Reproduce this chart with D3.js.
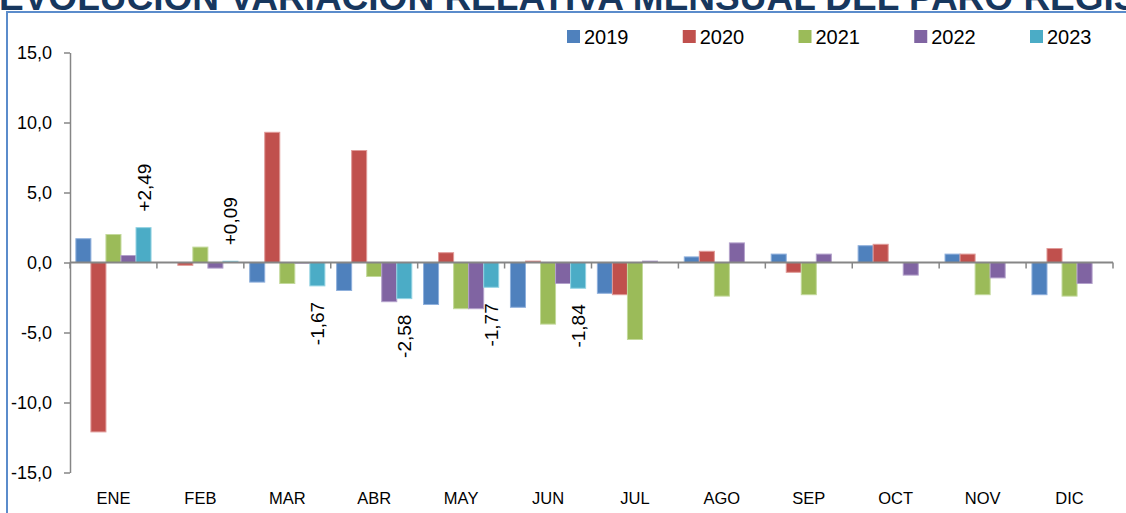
<!DOCTYPE HTML>
<html lang="es">
	<head>
		<title>Evolución variación relativa mensual</title>
		<style type="text/css">
			body {
				margin: 0;
				background-color: #ffffff;
				font-family: "Liberation Sans", Arial, sans-serif;
			}
			svg { display: block; }
		</style>
		<script src="https://d3js.org/d3.v7.min.js"></script>
	</head>
	<body>
		<div id="display"></div>
		<script>

			// data
			var months = ["ENE", "FEB", "MAR", "ABR", "MAY", "JUN", "JUL", "AGO", "SEP", "OCT", "NOV", "DIC"];
			var years = ["2019", "2020", "2021", "2022", "2023"];
			var v2019 = [1.7, 0.0, -1.4, -2.0, -3.0, -3.2, -2.2, 0.4, 0.6, 1.2, 0.6, -2.3];
			var v2020 = [-12.1, -0.2, 9.3, 8.0, 0.7, 0.1, -2.3, 0.8, -0.7, 1.3, 0.6, 1.0];
			var v2021 = [2.0, 1.1, -1.5, -1.0, -3.3, -4.4, -5.5, -2.4, -2.3, 0.0, -2.3, -2.4];
			var v2022 = [0.5, -0.4, -0.05, -2.8, -3.3, -1.5, 0.1, 1.4, 0.6, -0.9, -1.1, -1.5];
			var v2023 = [2.49, 0.09, -1.67, -2.58, -1.77, -1.84, null, null, null, null, null, null];
			var yTicks = [-15, -10, -5, 0, 5, 10, 15];

			var series = [v2019, v2020, v2021, v2022, v2023];
			var colors = ["#4f81bd", "#c0504d", "#9bbb59", "#8064a2", "#4bacc6"];
			var strokes = ["#8fb0dc", "#e09a98", "#c3d99b", "#b3a1cb", "#93d3e3"];

			var width = 1126, height = 513;
			var svg = d3.select("#display").append("svg")
				.attr("width", width)
				.attr("height", height);

			// title (cut by the top edge, as in the picture)
			svg.append("text")
				.attr("x", -1)
				.attr("y", 10)
				.style("font-family", "'Liberation Sans', Arial, sans-serif")
				.style("font-weight", "bold")
				.style("font-size", "37px")
				.style("fill", "#17375e")
				.text("EVOLUCIÓN VARIACIÓN RELATIVA MENSUAL DEL PARO REGISTRADO");

			// frame
			svg.append("path")
				.attr("d", "M7,513 L7,12 L1126,12")
				.style("fill", "none")
				.style("stroke", "#5b8ccb")
				.style("stroke-width", 2);

			var x0 = d3.scaleBand().domain(months).range([70, 1113]).padding(0);
			var x1 = d3.scaleBand().domain(years).range([0, x0.bandwidth()]).paddingInner(0).paddingOuter(0.39);
			var y = d3.scaleLinear().domain([-15, 15]).range([472.5, 52.5]);

			var fmt1 = function(d) { return d3.format(".1f")(d).replace(".", ",").replace("−", "-"); };
			var fmt2 = function(d) { return (d > 0 ? "+" : "") + d3.format(".2f")(d).replace(".", ",").replace("−", "-"); };

			// y axis
			var yAxis = svg.append("g")
				.attr("transform", "translate(70,0)")
				.call(d3.axisLeft(y).tickValues(yTicks).tickFormat(fmt1).tickSize(6).tickSizeOuter(0).tickPadding(12));
			yAxis.select(".domain").style("stroke", "#868686").style("stroke-width", 1.5);
			yAxis.selectAll(".tick line").style("stroke", "#868686").style("stroke-width", 1.5);
			yAxis.selectAll(".tick text")
				.style("font-family", "'Liberation Sans', Arial, sans-serif")
				.style("font-size", "18px")
				.style("fill", "#000");

			// bars
			years.forEach(function(yr, i) {
				var rows = months.map(function(m, j) { return {m: m, v: series[i][j]}; })
					.filter(function(d) { return d.v !== null; });
				svg.append("g").selectAll("rect")
					.data(rows)
					.enter().append("rect")
					.attr("x", function(d) { return x0(d.m) + x1(yr); })
					.attr("width", x1.bandwidth())
					.attr("y", function(d) { return Math.min(y(d.v), y(0)); })
					.attr("height", function(d) { return Math.abs(y(d.v) - y(0)); })
					.style("fill", colors[i])
					.style("stroke", strokes[i])
					.style("stroke-width", 1);
			});

			// zero line with category ticks
			svg.append("line")
				.attr("x1", 70).attr("x2", x0.range()[1])
				.attr("y1", y(0)).attr("y2", y(0))
				.style("stroke", "#868686")
				.style("stroke-width", 2);
			var bounds = months.map(function(m) { return x0(m); }).concat([x0.range()[1]]);
			svg.append("g").selectAll("line")
				.data(bounds)
				.enter().append("line")
				.attr("x1", function(d) { return d; })
				.attr("x2", function(d) { return d; })
				.attr("y1", y(0))
				.attr("y2", y(0) + 6)
				.style("stroke", "#868686")
				.style("stroke-width", 1.5);

			// category labels at the bottom
			svg.append("g").selectAll("text")
				.data(months)
				.enter().append("text")
				.attr("x", function(d) { return x0(d) + x0.bandwidth() / 2; })
				.attr("y", 504)
				.style("text-anchor", "middle")
				.style("font-size", "16.5px")
				.style("fill", "#000")
				.text(function(d) { return d; });

			// 2023 data labels, rotated
			var lab = months.map(function(m, j) { return {m: m, v: v2023[j]}; })
				.filter(function(d) { return d.v !== null; });
			svg.append("g").selectAll("text")
				.data(lab)
				.enter().append("text")
				.attr("transform", function(d) {
					var cx = x0(d.m) + x1("2023") + x1.bandwidth() / 2 + 7;
					var cy = d.v >= 0 ? y(d.v) - 16 : y(d.v) + 16;
					return "translate(" + cx + "," + cy + ") rotate(-90)";
				})
				.style("text-anchor", function(d) { return d.v >= 0 ? "start" : "end"; })
				.style("font-size", "19px")
				.style("fill", "#000")
				.text(function(d) { return fmt2(d.v); });

			// legend
			var leg = svg.append("g").selectAll("g")
				.data(years)
				.enter().append("g")
				.attr("transform", function(d, i) { return "translate(" + (567 + i * 115.75) + ",30)"; });
			leg.append("rect")
				.attr("width", 13).attr("height", 13)
				.style("fill", function(d, i) { return colors[i]; });
			leg.append("text")
				.attr("x", 17).attr("y", 13.5)
				.style("font-size", "20px")
				.style("fill", "#000")
				.text(function(d) { return d; });

		</script>
	</body>
</html>
